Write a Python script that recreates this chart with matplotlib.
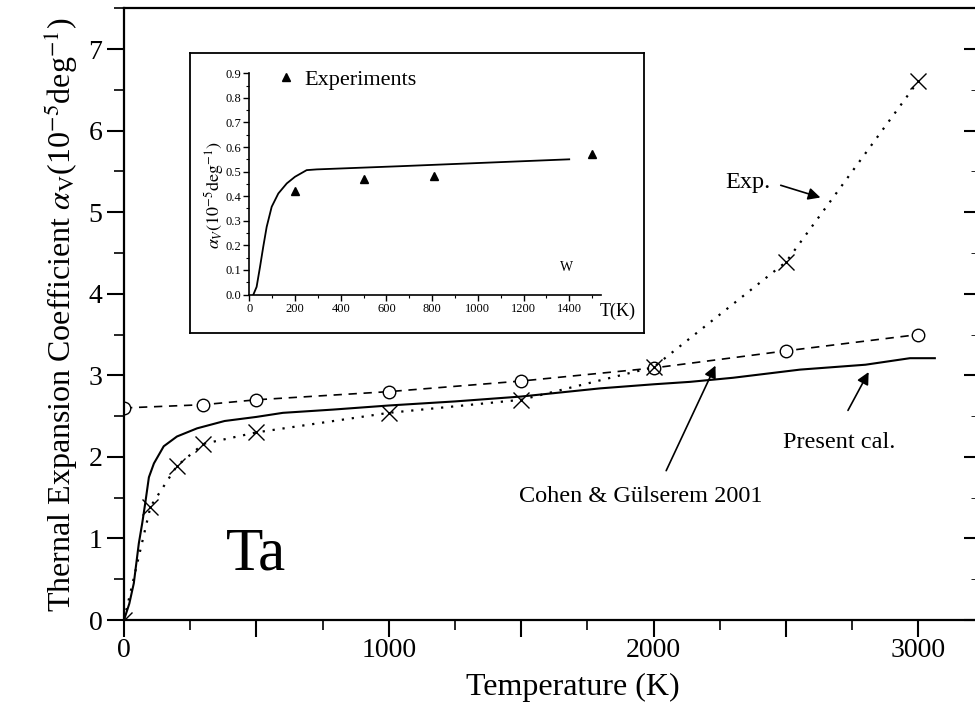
import matplotlib
matplotlib.use('Agg')
import matplotlib.pyplot as plt
from matplotlib.ticker import MultipleLocator, FuncFormatter

plt.rcParams['font.family'] = ['Liberation Serif', 'DejaVu Serif']
plt.rcParams['mathtext.fontset'] = 'stix'

# main panel data (Ta)
T_cal = [0, 20, 37, 56, 69, 81, 94, 113, 150, 200, 276, 380, 500, 600, 790, 1000,
         1250, 1500, 1798, 2000, 2138, 2300, 2553, 2800, 2968, 3062]
a_cal = [0, 0.2, 0.45, 0.94, 1.19, 1.45, 1.75, 1.92, 2.13, 2.25, 2.35, 2.44, 2.49, 2.54, 2.58, 2.63,
         2.68, 2.74, 2.84, 2.89, 2.92, 2.97, 3.07, 3.13, 3.21, 3.21]

T_cohen = [0, 300, 500, 1000, 1500, 2000, 2500, 3000]
a_cohen = [2.6, 2.64, 2.7, 2.8, 2.93, 3.09, 3.3, 3.5]

T_exp = [0, 100, 200, 300, 500, 1000, 1500, 2000, 2500, 3000]
a_exp = [0, 1.39, 1.89, 2.16, 2.3, 2.54, 2.7, 3.1, 4.39, 6.61]

# inset data (W)
T_w = [18, 32, 47, 61, 76, 98, 127, 164, 200, 251, 295, 660, 1400]
a_w = [0, 0.031, 0.113, 0.194, 0.275, 0.357, 0.411, 0.452, 0.479, 0.506, 0.509, 0.522, 0.55]
T_w_exp = [200, 500, 810, 1500]
a_w_exp = [0.423, 0.469, 0.483, 0.57]

fig = plt.figure(figsize=(9.75, 7.22), dpi=100)
ax = fig.add_axes([124/975, 102/722, (978-124)/975, (620-8.3)/722])

ax.plot(T_cal, a_cal, '-', color='k', lw=1.5)
ax.plot(T_cohen, a_cohen, '--', color='k', lw=1.2, dashes=(5, 4),
        marker='o', ms=9, mfc='white', mec='k', mew=1.0)
ax.plot(T_exp, a_exp, color='k', lw=1.6, linestyle=(0, (1, 3.5)),
        marker='x', ms=12, mew=1.0)

ax.set_xlim(0, 3225)
ax.set_ylim(0, 7.5)
ax.xaxis.set_major_locator(MultipleLocator(500))
ax.xaxis.set_minor_locator(MultipleLocator(250))
ax.xaxis.set_major_formatter(FuncFormatter(lambda v, p: '%d' % v if v % 1000 == 0 else ''))
ax.yaxis.set_major_locator(MultipleLocator(1))
ax.yaxis.set_minor_locator(MultipleLocator(0.5))
ax.tick_params(which='major', direction='out', length=12, width=1.5, labelsize=20)
ax.tick_params(which='minor', direction='out', length=7, width=1.2)
ax.tick_params(axis='x', pad=1)
for s in ax.spines.values():
    s.set_linewidth(1.6)

sec = ax.secondary_yaxis('right')
sec.yaxis.set_major_locator(MultipleLocator(1))
sec.yaxis.set_minor_locator(MultipleLocator(0.5))
sec.tick_params(which='major', direction='in', length=10, width=1.5, labelright=False)
sec.tick_params(which='minor', direction='in', length=5, width=0.6, labelright=False)

ax.set_xlabel('Temperature (K)', fontsize=23)
ax.xaxis.set_label_coords(0.526, -0.086)
ax.set_ylabel(r'Thernal Expansion Coefficient $\alpha_{\rm V}$(10$^{-5}$deg$^{-1}$)',
              fontsize=23, labelpad=6)

ax.text(500, 0.80, 'Ta', fontsize=44, ha='center', va='center')

ax.text(2357, 5.36, 'Exp.', fontsize=17.5, ha='center', va='center')
ax.annotate('', xy=(2640, 5.17), xytext=(2470, 5.34),
            arrowprops=dict(arrowstyle='-|>', color='k', lw=1.2, mutation_scale=18))
ax.text(1953, 1.51, u'Cohen & Gülserem 2001', fontsize=17.5, ha='center', va='center')
ax.annotate('', xy=(2238, 3.15), xytext=(2043, 1.80),
            arrowprops=dict(arrowstyle='-|>', color='k', lw=1.2, mutation_scale=18))
ax.text(2700, 2.18, 'Present cal.', fontsize=17.5, ha='center', va='center')
ax.annotate('', xy=(2817, 3.07), xytext=(2729, 2.54),
            arrowprops=dict(arrowstyle='-|>', color='k', lw=1.2, mutation_scale=18))

# inset frame
frame = fig.add_axes([190/975, (722-333)/722, 454/975, 280/722])
frame.set_xticks([])
frame.set_yticks([])
for s in frame.spines.values():
    s.set_linewidth(1.3)

ins = fig.add_axes([249.3/975, (722-294.5)/722, 351.9/975, 221.2/722])
ins.patch.set_alpha(0)
ins.plot(T_w, a_w, '-', color='k', lw=1.3)
ins.plot(T_w_exp, a_w_exp, '^', color='k', ms=6, ls='none', label='Experiments')
ins.set_xlim(0, 1540)
ins.set_ylim(0, 0.9)
ins.spines['top'].set_visible(False)
ins.spines['right'].set_visible(False)
for s in ['left', 'bottom']:
    ins.spines[s].set_linewidth(1.2)
ins.xaxis.set_major_locator(MultipleLocator(200))
ins.xaxis.set_minor_locator(MultipleLocator(100))
ins.yaxis.set_major_locator(MultipleLocator(0.1))
ins.yaxis.set_minor_locator(MultipleLocator(0.05))
ins.yaxis.set_major_formatter(FuncFormatter(lambda v, p: '%.1f' % v))
ins.tick_params(which='major', direction='out', length=4, width=1, labelsize=9, pad=2)
ins.tick_params(which='minor', direction='out', length=2, width=0.8)
ins.text(-0.10, 0.45, r'$\alpha_V(10^{-5}\mathrm{deg}^{-1})$', fontsize=13, rotation=90,
         ha='center', va='center', transform=ins.transAxes)
ins.text(1390, 0.108, 'W', fontsize=10, ha='center', va='center')
ins.text(1.048, -0.075, 'T(K)', fontsize=13, ha='center', va='center', transform=ins.transAxes)
ins.legend(loc='upper left', bbox_to_anchor=(0.015, 1.11), frameon=False, fontsize=16,
           handletextpad=0.35, handlelength=1.0, numpoints=1)

fig.savefig('out.png', dpi=100)
